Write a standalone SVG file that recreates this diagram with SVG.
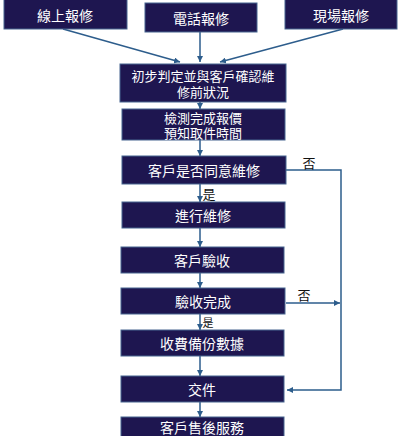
<svg xmlns="http://www.w3.org/2000/svg" width="400" height="436" viewBox="0 0 400 436">
<defs>
<marker id="ah" viewBox="0 0 10 10" refX="10" refY="5" markerWidth="6" markerHeight="6" orient="auto" markerUnits="userSpaceOnUse">
<path d="M0,0 L10,5 L0,10 z" fill="#2d5d8c"/>
</marker>
<style>
.box{fill:#1e1650;stroke:#46658f;stroke-width:1}
.t{fill:#ffffff;font-family:"Noto Sans CJK TC","Noto Sans CJK SC",sans-serif;font-size:14px;text-anchor:middle;dominant-baseline:central}
.t2{font-size:13px}
.lb{fill:#111111;font-family:"Noto Sans CJK TC","Noto Sans CJK SC",sans-serif;font-size:13px;text-anchor:middle;dominant-baseline:central}
.c{fill:none;stroke:#2d5d8c;stroke-width:1.5}
</style>
</defs>
<rect width="400" height="436" fill="#ffffff"/>
<g id="connectors">
<line class="c" x1="63" y1="29" x2="180" y2="62" marker-end="url(#ah)"/>
<line class="c" x1="200" y1="32" x2="200" y2="62" marker-end="url(#ah)"/>
<line class="c" x1="343" y1="29" x2="220" y2="62" marker-end="url(#ah)"/>
<line class="c" x1="200" y1="102" x2="200" y2="109" marker-end="url(#ah)"/>
<line class="c" x1="200" y1="140" x2="200" y2="156" marker-end="url(#ah)"/>
<line class="c" x1="200" y1="184" x2="200" y2="202" marker-end="url(#ah)"/>
<line class="c" x1="200" y1="228" x2="200" y2="247" marker-end="url(#ah)"/>
<line class="c" x1="200" y1="273" x2="200" y2="288" marker-end="url(#ah)"/>
<line class="c" x1="200" y1="314" x2="200" y2="330" marker-end="url(#ah)"/>
<line class="c" x1="200" y1="356" x2="200" y2="376" marker-end="url(#ah)"/>
<line class="c" x1="200" y1="402" x2="200" y2="417" marker-end="url(#ah)"/>
<polyline class="c" points="286,170 341,170 341,390 287,390" marker-end="url(#ah)"/>
<line class="c" x1="286" y1="303" x2="340" y2="303" marker-end="url(#ah)"/>
<text class="lb" x="309" y="162">否</text>
<text class="lb" x="304" y="294">否</text>
<text class="lb" x="209" y="193">是</text>
<text class="lb" x="208" y="322" style="font-size:11px">是</text>
</g>
<g id="n1"><rect class="box" x="4" y="-1" width="123" height="30"/><text class="t" x="65" y="15">線上報修</text></g>
<g id="n2"><rect class="box" x="145" y="3" width="112" height="29"/><text class="t" x="201" y="18">電話報修</text></g>
<g id="n3"><rect class="box" x="285" y="-1" width="112" height="30"/><text class="t" x="341" y="15">現場報修</text></g>
<g id="n4"><rect class="box" x="120" y="64" width="166" height="38"/><text class="t t2" x="203" y="75">初步判定並與客戶確認維<tspan x="203" dy="16">修前狀況</tspan></text></g>
<g id="n5"><rect class="box" x="122" y="109" width="163" height="31"/><text class="t t2" x="203" y="117">檢測完成報價<tspan x="203" dy="15">預知取件時間</tspan></text></g>
<g id="n6"><rect class="box" x="122" y="156" width="164" height="28"/><text class="t" x="204" y="170">客戶是否同意維修</text></g>
<g id="n7"><rect class="box" x="122" y="202" width="163" height="26"/><text class="t" x="203" y="215">進行維修</text></g>
<g id="n8"><rect class="box" x="121" y="247" width="163" height="26"/><text class="t" x="202" y="260">客戶驗收</text></g>
<g id="n9"><rect class="box" x="121" y="288" width="164" height="26"/><text class="t" x="203" y="301">驗收完成</text></g>
<g id="n10"><rect class="box" x="121" y="330" width="163" height="26"/><text class="t" x="202" y="343">收費備份數據</text></g>
<g id="n11"><rect class="box" x="121" y="376" width="163" height="26"/><text class="t" x="202" y="389">交件</text></g>
<g id="n12"><rect class="box" x="121" y="417" width="163" height="22"/><text class="t" x="202" y="426.5">客戶售後服務</text></g>
</svg>
